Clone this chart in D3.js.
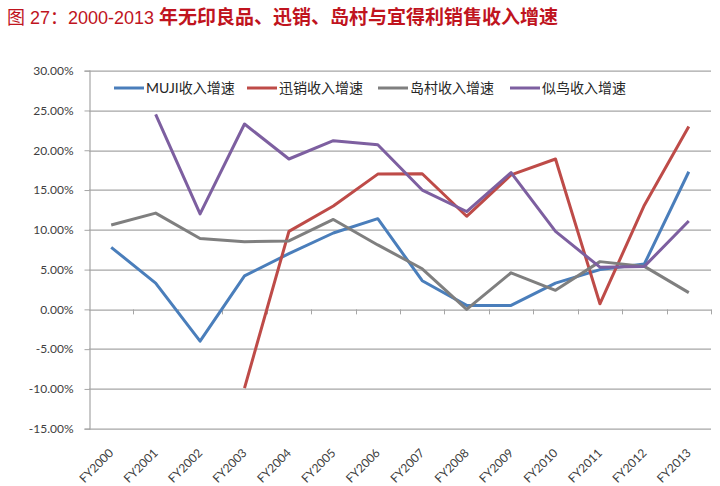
<!DOCTYPE html>
<html>
<head>
<meta charset="utf-8">
<script src="https://cdn.jsdelivr.net/npm/d3@7"></script>
<style>
  body { margin: 0; background: #fff; }
  svg { display: block; }
</style>
</head>
<body>
<div id="chart"></div>
<script>
const years = ["FY2000","FY2001","FY2002","FY2003","FY2004","FY2005","FY2006","FY2007","FY2008","FY2009","FY2010","FY2011","FY2012","FY2013"]
const seriesNames = ["MUJI收入增速","迅销收入增速","岛村收入增速","似鸟收入增速"]
const muji = [7.8,3.3,-4.0,4.2,7.0,9.6,11.4,3.6,0.5,0.5,3.3,5.0,5.7,17.3]
const fastRetailing = [null,null,null,-9.9,9.8,13.0,17.0,17.05,11.7,16.9,18.9,0.7,13.1,23.0]
const shimamura = [10.6,12.1,8.9,8.5,8.6,11.3,8.1,5.1,0.0,4.6,2.4,6.0,5.4,2.1]
const nitori = [null,24.5,12.0,23.3,18.9,21.2,20.7,15.0,12.3,17.2,9.8,5.3,5.4,11.1]
const yTicks = [30,25,20,15,10,5,0,-5,-10,-15]
const colors = ["#4a7ebb","#be4b48","#7f7f7f","#7d5fa0"]

const W = 720, H = 486
const margin = {top: 70.7, right: 9, bottom: 57.3, left: 89}
const width = W - margin.left - margin.right,
      height = H - margin.top - margin.bottom

const svg = d3.select("#chart").append("svg")
  .attr("width", W)
  .attr("height", H)

// title
const title = svg.append("text")
  .attr("x", 7)
  .attr("y", 24)
  .attr("fill", "#c0141e")
  .style("font-family", "'Liberation Sans', 'Noto Sans CJK SC', sans-serif")
title.append("tspan")
  .style("font-size", "18px")
  .text("图 27：2000-2013 ")
title.append("tspan")
  .style("font-size", "19px")
  .style("font-weight", "bold")
  .style("font-family", "'Noto Sans CJK SC', sans-serif")
  .text("年无印良品、迅销、岛村与宜得利销售收入增速")

const g = svg.append("g")
  .attr("transform", "translate(" + margin.left + "," + margin.top + ")")

var x = d3.scaleBand()
  .domain(years)
  .range([0, width])

var y = d3.scaleLinear()
  .domain([-15, 30])
  .range([height, 0])

// gridlines
g.selectAll(".grid")
  .data(yTicks)
  .enter()
  .append("line")
  .attr("x1", 0)
  .attr("x2", width)
  .attr("y1", d => Math.round(y(d)) + 0.5)
  .attr("y2", d => Math.round(y(d)) + 0.5)
  .attr("stroke", "#a6a6a6")
  .attr("stroke-width", 1.2)

// y axis
const yAxis = g.append("g")
  .attr("transform", "translate(0.5,0)")
  .call(d3.axisLeft(y).tickValues(yTicks).tickSize(5).tickPadding(11)
    .tickFormat(d => d.toFixed(2) + "%"))
yAxis.select(".domain").attr("stroke", "#a6a6a6").attr("stroke-width", 1.2)
yAxis.selectAll(".tick line").attr("stroke", "#a6a6a6")
yAxis.selectAll("text")
  .style("font-family", "Lato, 'Open Sans', sans-serif")
  .style("font-size", "12px")
  .attr("fill", "#404040")

// category ticks on the zero line
g.selectAll(".xtick")
  .data(years.slice(1).concat(["end"]))
  .enter()
  .append("line")
  .attr("x1", (d, i) => Math.round(x.step() * (i + 1)) + 0.5)
  .attr("x2", (d, i) => Math.round(x.step() * (i + 1)) + 0.5)
  .attr("y1", y(0))
  .attr("y2", y(0) + 5)
  .attr("stroke", "#a6a6a6")

// x labels
g.selectAll(".xlabel")
  .data(years)
  .enter()
  .append("text")
  .attr("transform", d => "translate(" + (x(d) + x.bandwidth() / 2 + 3) + "," + (height + 25) + ")rotate(-45)")
  .attr("text-anchor", "end")
  .style("font-family", "Lato, 'Open Sans', sans-serif")
  .style("font-size", "12px")
  .attr("fill", "#404040")
  .text(d => d)

// lines
const allSeries = [muji, fastRetailing, shimamura, nitori]
const line = d3.line()
  .defined(d => d != null)
  .x((d, i) => x(years[i]) + x.bandwidth() / 2)
  .y(d => y(d))

allSeries.forEach(function(s, k) {
  g.append("path")
    .datum(s)
    .attr("d", line)
    .attr("fill", "none")
    .attr("stroke", colors[k])
    .attr("stroke-width", 3)
    .attr("stroke-linejoin", "round")
})

// legend
const legendX = [114, 247, 378, 510]
const legend = svg.selectAll(".legend")
  .data(seriesNames)
  .enter()
  .append("g")
  .attr("transform", (d, i) => "translate(" + legendX[i] + ",88)")
legend.append("line")
  .attr("x1", 0).attr("x2", 30)
  .attr("stroke", (d, i) => colors[i])
  .attr("stroke-width", 3)
legend.append("text")
  .attr("x", 32)
  .attr("dy", "0.35em")
  .style("font-family", "Lato, 'Noto Sans CJK SC', sans-serif")
  .style("font-size", "14px")
  .attr("fill", "#262626")
  .text(d => d)
</script>
</body>
</html>
